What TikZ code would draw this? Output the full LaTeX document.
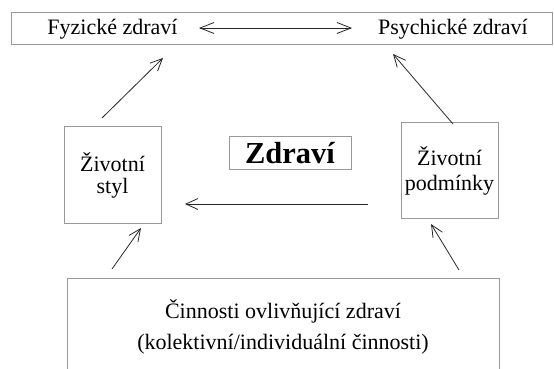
\documentclass[tikz,border=0pt]{standalone}
\usepackage{fontspec}
\setmainfont{Liberation Serif}
\usetikzlibrary{arrows.meta}
\begin{document}
\begin{tikzpicture}[x=1pt,y=-1pt,
  boxstyle/.style={draw=black!40,line width=0.8pt,inner sep=0pt},
  txt/.style={inner sep=0pt,font=\fontsize{22}{26}\selectfont},
  conn/.style={draw=black!85,line width=0.8pt,-{Straight Barb[length=12pt,width=11pt,line width=0.8pt]}},
  dconn/.style={draw=black!85,line width=0.8pt,{Straight Barb[length=14pt,width=11pt,line width=0.8pt]}-{Straight Barb[length=14pt,width=11pt,line width=0.8pt]}}]
\useasboundingbox (0,0) rectangle (554,369);
\begin{scope}
\clip (0,0) rectangle (554,369);
% top box
\node[boxstyle,minimum width=541pt,minimum height=32pt] (top) at (281.5,28) {};
\node[txt,anchor=base] (fyz) at (112.5,35) {Fyzické zdraví};
\node[txt,anchor=base] (psy) at (453,35) {Psychické zdraví};
% side boxes
\node[boxstyle,minimum width=97pt,minimum height=97pt] (styl) at (112.5,174.5) {};
\node[txt,anchor=base] (stylt) at (112.5,171) {Životní};
\node[txt,anchor=base] (stylt2) at (112.5,193) {styl};
\node[boxstyle,minimum width=97pt,minimum height=96pt] (podm) at (449.5,170) {};
\node[txt,anchor=base] (podmt) at (449.5,165) {Životní};
\node[txt,anchor=base] (podmt2) at (449.5,190) {podmínky};
% central box
\node[boxstyle,minimum width=122pt,minimum height=33pt] (zdr) at (290,152.5) {};
\node[inner sep=0pt,font=\fontsize{30.5}{34}\selectfont\bfseries,anchor=base] (zdrt) at (290,163) {Zdraví};
% bottom box
\draw[draw=black!40,line width=0.8pt] (67,390) |- (499,278) -- (499,390);
\node[txt,anchor=base] (cin) at (283,318) {Činnosti ovlivňující zdraví};
\node[txt,anchor=base] (kol) at (283,349) {(kolektivní/individuální činnosti)};
% connector ends
\coordinate (a1) at (199,28);
\coordinate (a2) at (352,28);
\coordinate (l1) at (102,118);
\coordinate (l2) at (163,58);
\coordinate (r1) at (453,124);
\coordinate (r2) at (393,54);
\coordinate (bl1) at (112,269);
\coordinate (bl2) at (141,228);
\coordinate (br1) at (459,270);
\coordinate (br2) at (431,224);
\coordinate (h1) at (368,204);
\coordinate (h2) at (185,204);
\end{scope}
\draw[dconn] (a1) -- (a2);
\draw[conn] (l1) -- (l2);
\draw[conn] (r1) -- (r2);
\draw[conn] (bl1) -- (bl2);
\draw[conn] (br1) -- (br2);
\draw[conn] (h1) -- (h2);
\end{tikzpicture}
\end{document}
